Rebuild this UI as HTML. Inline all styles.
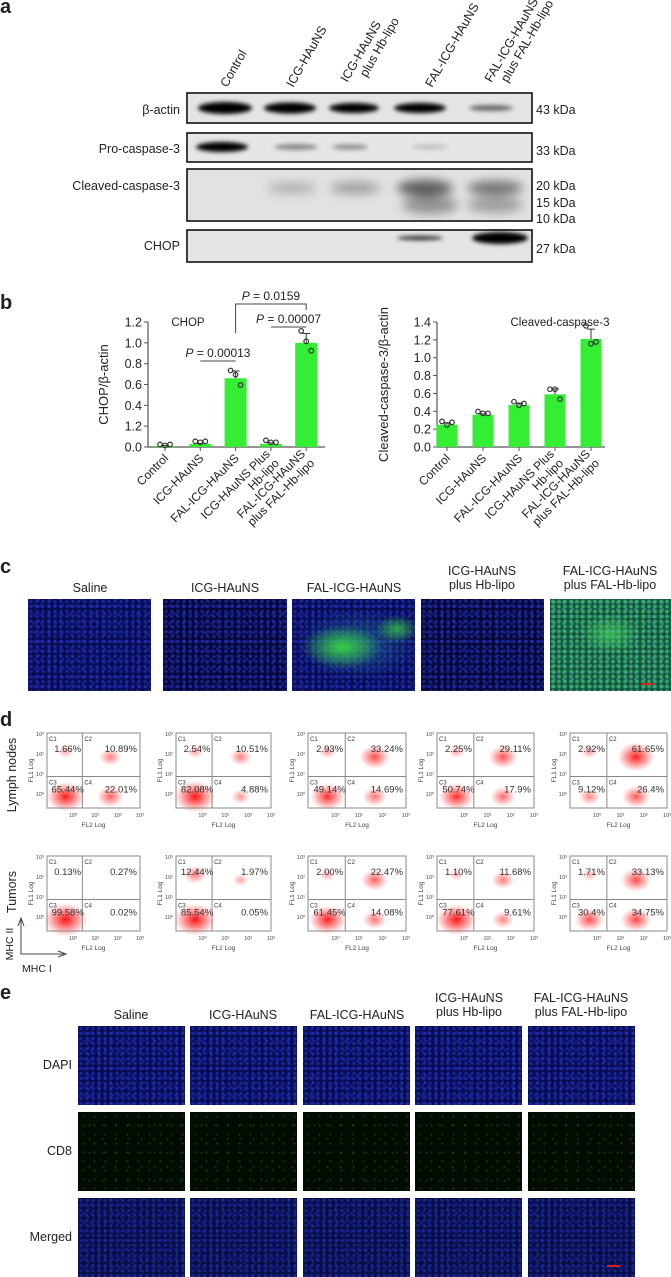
<!DOCTYPE html>
<html><head><meta charset="utf-8">
<style>
body{margin:0;background:#fff;}
#root{position:relative;width:671px;height:1277px;overflow:hidden;font-family:"Liberation Sans",sans-serif;color:#222;}
.abs{position:absolute;}
.lbl{position:absolute;font-weight:bold;font-size:20px;line-height:20px;}
.t{position:absolute;font-size:12.5px;line-height:14px;white-space:nowrap;}
.ctr{text-align:center;transform:translateX(-50%);}
.blue{background-color:#080c50;background-image:radial-gradient(circle,rgba(45,60,220,.55) 1px,transparent 2.2px),radial-gradient(circle,rgba(30,45,190,.5) 1.2px,transparent 2.4px),radial-gradient(circle,rgba(50,70,240,.4) .8px,transparent 1.8px);background-size:6px 5px,7px 9px,11px 7px;background-position:0 0,3px 2px,5px 4px;}
.green{background-color:#030c03;background-image:radial-gradient(circle,rgba(40,150,40,.35) .7px,transparent 1.4px),radial-gradient(circle,rgba(50,170,50,.25) .7px,transparent 1.4px);background-size:11px 9px,13px 14px;background-position:0 0,5px 6px;}
.merged{background-color:#090d48;background-image:radial-gradient(circle,rgba(40,60,200,.5) 1px,transparent 2.2px),radial-gradient(circle,rgba(30,45,180,.45) 1.2px,transparent 2.4px),radial-gradient(circle,rgba(40,140,60,.3) .7px,transparent 1.4px);background-size:6px 5px,7px 9px,11px 9px;background-position:0 0,3px 2px,5px 6px;}
</style></head><body>
<div id="root">

<!-- Panel a -->
<div class="lbl" style="left:0;top:-3px">a</div>
<svg class="abs" style="left:0;top:0" width="671" height="270">
 <defs>
  <filter id="bl" x="-50%" y="-100%" width="200%" height="300%"><feGaussianBlur stdDeviation="2.2"/></filter>
  <filter id="bl2" x="-50%" y="-100%" width="200%" height="300%"><feGaussianBlur stdDeviation="5"/></filter>
 </defs>
 <g font-size="12.5" fill="#222">
  <text transform="translate(227,88) rotate(-60)">Control</text>
  <text transform="translate(293,88) rotate(-60)">ICG-HAuNS</text>
  <text transform="translate(356,88) rotate(-60)"><tspan x="0" y="-10">ICG-HAuNS</tspan><tspan x="14" y="4">plus Hb-lipo</tspan></text>
  <text transform="translate(432,88) rotate(-60)">FAL-ICG-HAuNS</text>
  <text transform="translate(500,88) rotate(-60)"><tspan x="0" y="-10">FAL-ICG-HAuNS</tspan><tspan x="8" y="4">plus FAL-Hb-lipo</tspan></text>
 </g>
 <g font-size="12.5" fill="#222" text-anchor="end">
  <text x="180" y="114">β-actin</text>
  <text x="180" y="153">Pro-caspase-3</text>
  <text x="180" y="190">Cleaved-caspase-3</text>
  <text x="180" y="250">CHOP</text>
 </g>
 <g font-size="12.5" fill="#222">
  <text x="536" y="114">43 kDa</text>
  <text x="536" y="155">33 kDa</text>
  <text x="536" y="190">20 kDa</text>
  <text x="536" y="207">15 kDa</text>
  <text x="536" y="223">10 kDa</text>
  <text x="536" y="253">27 kDa</text>
 </g>
 <rect x="187" y="93" width="345" height="30" fill="#e4e4e4" stroke="#111" stroke-width="1.6"/>
 <rect x="187" y="133" width="345" height="29" fill="#e6e6e6" stroke="#111" stroke-width="1.6"/>
 <rect x="187" y="169" width="345" height="52" fill="#e2e2e2" stroke="#111" stroke-width="1.6"/>
 <rect x="187" y="230" width="345" height="32" fill="#e4e4e4" stroke="#111" stroke-width="1.6"/>
 <g filter="url(#bl)" fill="#000">
  <ellipse cx="225" cy="108" rx="27" ry="6"/><ellipse cx="290" cy="108" rx="26" ry="5.5"/>
  <ellipse cx="354" cy="108" rx="25" ry="5"/><ellipse cx="420" cy="108" rx="26" ry="5"/>
  <ellipse cx="491" cy="108" rx="22" ry="3" opacity=".55"/>
  <ellipse cx="222" cy="147" rx="26" ry="5"/><ellipse cx="296" cy="147" rx="22" ry="3" opacity=".4"/>
  <ellipse cx="350" cy="147" rx="18" ry="3" opacity=".35"/><ellipse cx="430" cy="147" rx="18" ry="3" opacity=".15"/>
  <ellipse cx="420" cy="238" rx="23" ry="2.2" opacity=".8"/><ellipse cx="500" cy="238" rx="28" ry="6"/>
 </g>
 <g filter="url(#bl2)" fill="#000">
  <ellipse cx="292" cy="188" rx="25" ry="5" opacity=".25"/><ellipse cx="355" cy="188" rx="25" ry="6" opacity=".3"/>
  <ellipse cx="425" cy="188" rx="28" ry="8" opacity=".6"/><ellipse cx="495" cy="188" rx="28" ry="7" opacity=".5"/>
  <ellipse cx="430" cy="205" rx="28" ry="9" opacity=".35"/><ellipse cx="495" cy="205" rx="28" ry="8" opacity=".3"/>
 </g>
</svg>

<!-- Panel b -->
<div class="lbl" style="left:0;top:293px">b</div>
<svg id="chartb" class="abs" style="left:0;top:280px" width="671" height="250"></svg>

<!-- Panel c -->
<div class="lbl" style="left:0;top:557px">c</div>
<div class="t ctr" style="left:90px;top:581px">Saline</div>
<div class="t ctr" style="left:225px;top:581px">ICG-HAuNS</div>
<div class="t ctr" style="left:354px;top:581px">FAL-ICG-HAuNS</div>
<div class="t ctr" style="left:482px;top:564px">ICG-HAuNS<br>plus Hb-lipo</div>
<div class="t ctr" style="left:610px;top:564px">FAL-ICG-HAuNS<br>plus FAL-Hb-lipo</div>
<div class="abs blue" style="left:28px;top:599px;width:123px;height:92px"></div>
<div class="abs blue" style="left:163px;top:599px;width:124px;height:92px;background-color:#060838"></div>
<div class="abs blue" style="left:292px;top:599px;width:123px;height:92px"><div class="abs" style="inset:0;background:radial-gradient(ellipse 40px 22px at 50px 48px,rgba(60,230,60,.85),transparent),radial-gradient(ellipse 22px 14px at 105px 30px,rgba(60,220,60,.7),transparent),radial-gradient(ellipse 60px 35px at 65px 45px,rgba(40,150,160,.5),transparent)"></div></div>
<div class="abs blue" style="left:421px;top:599px;width:123px;height:92px;background-color:#060835"></div>
<div class="abs" style="left:550px;top:599px;width:121px;height:92px;background-color:#145040;background-image:radial-gradient(circle,rgba(70,200,120,.7) 1.3px,transparent 2.6px),radial-gradient(circle,rgba(60,180,200,.5) 1px,transparent 2.2px),radial-gradient(ellipse 30px 20px at 60px 35px,rgba(80,240,80,.6),transparent);background-size:6px 5px,9px 7px,auto"><div class="abs" style="left:92px;top:84px;width:12px;height:2px;background:#e02020"></div></div>

<!-- Panel d -->
<div class="lbl" style="left:0;top:710px">d</div>
<svg id="flow" class="abs" style="left:0;top:720px" width="671" height="260"></svg>

<!-- Panel e -->
<div class="lbl" style="left:0;top:983px">e</div>
<div class="t ctr" style="left:131px;top:1008px">Saline</div>
<div class="t ctr" style="left:243px;top:1008px">ICG-HAuNS</div>
<div class="t ctr" style="left:357px;top:1008px">FAL-ICG-HAuNS</div>
<div class="t ctr" style="left:469px;top:991px">ICG-HAuNS<br>plus Hb-lipo</div>
<div class="t ctr" style="left:581px;top:991px">FAL-ICG-HAuNS<br>plus FAL-Hb-lipo</div>
<div class="t" style="right:599px;top:1058px">DAPI</div>
<div class="t" style="right:599px;top:1144px">CD8</div>
<div class="t" style="right:599px;top:1230px">Merged</div>
</div>

<script>
// ---------- Panel b data ----------
const groups = ["Control","ICG-HAuNS","FAL-ICG-HAuNS","ICG-HAuNS Plus|Hb-lipo","FAL-ICG-HAuNS|plus FAL-Hb-lipo"];
const chopMeans = [0.01,0.03,0.66,0.03,1.0];
const chopErr = [0.005,0.005,0.07,0.01,0.09];
const chopPoints = [[0.01,0.0,0.01],[0.04,0.03,0.04],[0.72,0.68,0.58],[0.05,0.03,0.03],[1.1,1.0,0.91]];
const chopTicks = ["0.0","1.2","0.4","0.6","0.8","1.0","1.2"];
const chopTickVals = [0,0.2,0.4,0.6,0.8,1.0,1.2];
const casMeans = [0.25,0.36,0.47,0.59,1.21];
const casErr = [0.02,0.01,0.02,0.06,0.11];
const casPoints = [[0.27,0.23,0.26],[0.38,0.36,0.36],[0.49,0.45,0.47],[0.63,0.63,0.52],[1.34,1.14,1.16]];
const casTicks = ["0.0","0.2","0.4","0.6","0.8","1.0","1.2","1.4"];
const casTickVals = [0,0.2,0.4,0.6,0.8,1.0,1.2,1.4];

// ---------- Panel d data (C1, C2, C3, C4 percentages) ----------
const flowRow1 = [["1.66","10.89","65.44","22.01"],["2.54","10.51","82.08","4.88"],["2.93","33.24","49.14","14.69"],["2.25","29.11","50.74","17.9"],["2.92","61.65","9.12","26.4"]];
const flowRow2 = [["0.13","0.27","99.58","0.02"],["12.44","1.97","85.54","0.05"],["2.00","22.47","61.45","14.08"],["1.10","11.68","77.61","9.61"],["1.71","33.13","30.4","34.75"]];

const NS="http://www.w3.org/2000/svg";
function mk(parent,tag,attrs,text){const e=document.createElementNS(NS,tag);for(const k in attrs)e.setAttribute(k,attrs[k]);if(text!==undefined)e.textContent=text;parent.appendChild(e);return e;}

const svgB=document.getElementById('chartb');
function drawBar(cfg){
  const y=v=>cfg.y0-(v/cfg.ymax)*(cfg.y0-cfg.ytop);
  const x=i=>cfg.firstC+i*cfg.step;
  const g=mk(svgB,'g',{});
  
  
  const ya=mk(g,'line',{x1:cfg.x0,y1:cfg.y0,x2:cfg.x0,y2:cfg.ytop,stroke:'#555','stroke-width':1.2});
  
  
  const xa=mk(g,'line',{x1:cfg.x0,y1:cfg.y0,x2:cfg.xend,y2:cfg.y0,stroke:'#555','stroke-width':1.2});
  
  
  cfg.tickVals.forEach((v,i)=>{
    mk(g,'line',{x1:cfg.x0-4,y1:y(v),x2:cfg.x0,y2:y(v),stroke:'#555'});
    const t=mk(g,'text',{x:cfg.x0-6,y:y(v)+4.5,'text-anchor':'end','font-size':12.5,fill:'#222'},cfg.ticks[i]);
    
    
  });
  cfg.means.forEach((m,i)=>{
    const cx=x(i);
    const r=mk(g,'rect',{x:cx-cfg.bw/2,y:y(m),width:cfg.bw,height:cfg.y0-y(m),fill:'#33ee33'});
    
    
    mk(g,'line',{x1:cx,y1:y(m+cfg.err[i]),x2:cx,y2:y(m),stroke:'#333'});
    mk(g,'line',{x1:cx-4,y1:y(m+cfg.err[i]),x2:cx+4,y2:y(m+cfg.err[i]),stroke:'#333'});
    mk(g,'line',{x1:cx,y1:cfg.y0,x2:cx,y2:cfg.y0+4,stroke:'#555'});
    cfg.points[i].forEach((p,j)=>{
      const c=mk(g,'circle',{cx:cx+(j-1)*5,cy:y(p)-1.5,r:2.3,fill:'none',stroke:'#333','stroke-width':1.2});
      
      
    });
    const parts=groups[i].split('|');
    const tx=mk(g,'text',{transform:`translate(${cx+4},${cfg.y0+12}) rotate(-45)`,'text-anchor':'end','font-size':12,fill:'#222'});
    
    
    if(parts.length===1){mk(tx,'tspan',{x:0,y:0},parts[0]);}
    else{mk(tx,'tspan',{x:0,y:-6},parts[0]);mk(tx,'tspan',{x:0,y:7},parts[1]);}
  });
  const yl=mk(g,'text',{transform:`translate(${cfg.ylx},${(cfg.y0+cfg.ytop)/2}) rotate(-90)`,'text-anchor':'middle','font-size':13,fill:'#222'},cfg.ylabel);
  
  
  const tt=mk(g,'text',{x:cfg.titleX,y:cfg.ytop+4,'text-anchor':'middle','font-size':11.5,fill:'#222'},cfg.title);
  
  
  return {x,y};
}
const c1=drawBar({name:'chop-chart',x0:148,xend:325,y0:167,ytop:42,ymax:1.2,firstC:165,step:35.3,bw:22,means:chopMeans,err:chopErr,points:chopPoints,ticks:chopTicks,tickVals:chopTickVals,ylabel:'CHOP/β-actin',ylx:108,title:'CHOP',titleX:188});
const c2=drawBar({name:'cleaved-caspase-chart',x0:437,xend:605,y0:167,ytop:42,ymax:1.4,firstC:447,step:36,bw:21,means:casMeans,err:casErr,points:casPoints,ticks:casTicks,tickVals:casTickVals,ylabel:'Cleaved-caspase-3/β-actin',ylx:388,title:'Cleaved-caspase-3',titleX:560});
(function(){
  const g=mk(svgB,'g',{fill:'#222','font-size':12});
  
  
  const a=c1.x(1),b=c1.x(2),c=c1.x(3),d=c1.x(4);
  mk(g,'line',{x1:a,y1:81,x2:b,y2:81,stroke:'#444'});
  const t1=mk(g,'text',{x:(a+b)/2,y:77,'text-anchor':'middle'});mk(t1,'tspan',{'font-style':'italic'},'P');mk(t1,'tspan',{},' = 0.00013');
  mk(g,'line',{x1:c,y1:47,x2:d,y2:47,stroke:'#444'});
  const t2=mk(g,'text',{x:(c+d)/2,y:43,'text-anchor':'middle'});mk(t2,'tspan',{'font-style':'italic'},'P');mk(t2,'tspan',{},' = 0.00007');
  mk(g,'polyline',{points:`${b},53 ${b},24 ${d},24 ${d},30`,fill:'none',stroke:'#444'});
  const t3=mk(g,'text',{x:(b+d)/2,y:20,'text-anchor':'middle'});mk(t3,'tspan',{'font-style':'italic'},'P');mk(t3,'tspan',{},' = 0.0159');
})();

// ---------- Panel d ----------
const svgF=document.getElementById('flow');
const defs=mk(svgF,'defs',{});
const rg=mk(defs,'radialGradient',{id:'rd'});
mk(rg,'stop',{offset:'0','stop-color':'#ff1010','stop-opacity':1});
mk(rg,'stop',{offset:'0.5','stop-color':'#ff3030','stop-opacity':.55});
mk(rg,'stop',{offset:'1','stop-color':'#ff5050','stop-opacity':0});
const boxX=[[47,140],[176,271],[308,406],[437,534],[570,667]];
function flowPlot(rowData,top,rowIdx){
  rowData.forEach((vals,i)=>{
    const [x0,x1]=boxX[i];const w=x1-x0,h=75;
    const g=mk(svgF,'g',{});
    
    
    const mx=x0+w*0.38,my=top+h*0.58;
    const q=[[x0+w*0.2,top+h*0.25],[x0+w*0.68,top+h*0.32],[x0+w*0.2,top+h*0.85],[x0+w*0.68,top+h*0.85]];
    vals.forEach((s0,k)=>{
      const v=parseFloat(s0);const s=Math.sqrt(v)/10;
      if(v>0.5) mk(g,'ellipse',{cx:q[k][0],cy:q[k][1],rx:6+s*16,ry:5+s*12,fill:'url(#rd)',opacity:Math.min(1,.25+s*.9)});
    });
    mk(g,'rect',{x:x0,y:top,width:w,height:h,fill:'none',stroke:'#888','stroke-width':1});
    mk(g,'line',{x1:mx,y1:top,x2:mx,y2:top+h,stroke:'#888'});
    mk(g,'line',{x1:x0,y1:my,x2:x1,y2:my,stroke:'#888'});
    const tg=mk(g,'g',{'font-size':9.5,fill:'#333'});
    mk(tg,'text',{x:x0+2,y:top+8,'font-size':6},'C1');
    mk(tg,'text',{x:mx+2,y:top+8,'font-size':6},'C2');
    mk(tg,'text',{x:x0+2,y:my+8,'font-size':6},'C3');
    mk(tg,'text',{x:mx+2,y:my+8,'font-size':6},'C4');
    const p=[[x0+(mx-x0)/2+3,top+19],[x1-3,top+19],[x0+(mx-x0)/2+3,my+16],[x1-3,my+16]];
    vals.forEach((v,k)=>{
      const t=mk(tg,'text',{x:p[k][0],y:p[k][1],'text-anchor':k%2?'end':'middle'},v+'%');
      
      
    });
    const ax=mk(g,'g',{'font-size':5.5,fill:'#444'});
    ['10³','10²','10¹','10⁰'].forEach((s,k)=>mk(ax,'text',{x:x0-3,y:top+3+k*20,'text-anchor':'end'},s));
    ['10⁰','10¹','10²','10³'].forEach((s,k)=>mk(ax,'text',{x:x0+w*(0.28+k*0.24),y:top+h+9,'text-anchor':'middle'},s));
    mk(ax,'text',{x:x0+w*0.5,y:top+h+19,'text-anchor':'middle','font-size':6.5},'FL2 Log');
    mk(ax,'text',{transform:`translate(${x0-14},${top+h*0.5}) rotate(-90)`,'text-anchor':'middle','font-size':6.5},'FL1 Log');
  });
}
flowPlot(flowRow1,13,1);
flowPlot(flowRow2,136,2);
(function(){
  const g=mk(svgF,'g',{fill:'#222','font-size':12.5});
  
  
  mk(g,'text',{transform:'translate(16,55) rotate(-90)','text-anchor':'middle'},'Lymph nodes');
  mk(g,'text',{transform:'translate(16,172) rotate(-90)','text-anchor':'middle'},'Tumors');
  mk(g,'text',{transform:'translate(13,224) rotate(-90)','text-anchor':'middle','font-size':10.5},'MHC II');
  mk(g,'text',{x:22,y:252,'font-size':10.5},'MHC I');
  mk(g,'polyline',{points:'18,206 21,198 24,206',fill:'none',stroke:'#444'});
  mk(g,'polyline',{points:'21,198 21,234 65,234',fill:'none',stroke:'#444'});
  mk(g,'polyline',{points:'58,231 66,234 58,237',fill:'none',stroke:'#444'});
})();

// ---------- Panel e grid ----------
const eCols=[78,190,303,415,528];
const eRows=[1026,1112,1198];
const eRowNames=['dapi','cd8','merged'];
const eColNames=['saline','icg','fal-icg','icg-hb','fal-hb'];
const root=document.getElementById('root');
eRows.forEach((ry,r)=>eCols.forEach((cx,c)=>{
  const d=document.createElement('div');
  d.className='abs '+(r===0?'blue':r===1?'green':'merged');
  d.style.left=cx+'px';d.style.top=ry+'px';d.style.width='107px';d.style.height='79px';
  
  
  root.appendChild(d);
}));
const sb=document.createElement('div');
sb.className='abs';sb.style.cssText='left:607px;top:1265px;width:13px;height:2px;background:#e02020';


root.appendChild(sb);
</script>
</body></html>
